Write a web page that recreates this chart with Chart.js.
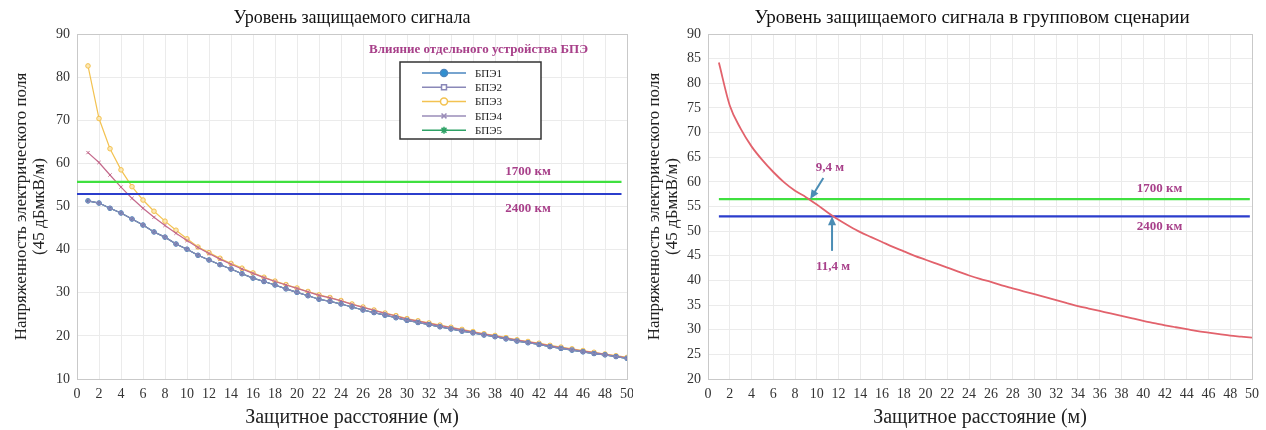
<!DOCTYPE html>
<html>
<head>
<meta charset="utf-8">
<script src="https://cdn.jsdelivr.net/npm/chart.js@4.4.1/dist/chart.umd.min.js"></script>
<style>
  body { margin: 0; background: #fff; }
  #wrap { position: relative; width: 1266px; height: 430px; }
  canvas { position: absolute; top: 0; }
  #left { left: 0; }
  #right { left: 633px; }
</style>
</head>
<body>
<div id="wrap">
  <canvas id="left" width="633" height="430"></canvas>
  <canvas id="right" width="633" height="430"></canvas>
</div>
<script>
// distance, m
var distance = [1,2,3,4,5,6,7,8,9,10,11,12,13,14,15,16,17,18,19,20,21,22,23,24,25,
                26,27,28,29,30,31,32,33,34,35,36,37,38,39,40,41,42,43,44,45,46,47,48,49,50];

// left chart: single device levels
var bte1 = [51.3,50.8,49.6,48.5,47.1,45.7,44.1,42.9,41.3,40.1,38.7,37.6,36.5,35.5,34.4,33.4,32.6,31.8,30.9,30.1,
            29.3,28.5,28.0,27.4,26.7,26.0,25.4,24.8,24.2,23.6,23.1,22.6,22.1,21.6,21.1,20.7,20.2,19.8,19.3,18.8,
            18.4,18.0,17.5,17.1,16.7,16.3,15.9,15.6,15.2,14.8];
var bte2 = bte1.slice();
var bte3 = [82.6,70.4,63.4,58.5,54.6,51.5,48.9,46.6,44.5,42.5,40.6,39.3,38.0,36.8,35.7,34.6,33.6,32.7,31.9,31.1,
            30.3,29.5,28.9,28.2,27.4,26.7,26.0,25.3,24.7,24.0,23.5,23.0,22.5,22.0,21.5,21.0,20.5,20.1,19.6,19.1,
            18.7,18.3,17.8,17.4,17.0,16.6,16.2,15.8,15.4,15.0];
var bte4 = [62.5,60.2,57.3,54.5,51.9,49.6,47.5,45.6,43.8,42.1,40.5,39.1,37.8,36.6,35.5,34.5,33.5,32.6,31.8,31.0,
            30.2,29.4,28.8,28.1,27.3,26.6,25.9,25.2,24.6,23.9,23.4,22.9,22.4,21.9,21.4,20.9,20.4,20.0,19.5,19.0,
            18.6,18.2,17.7,17.3,16.9,16.5,16.1,15.7,15.3,14.9];
var bte5 = bte1.slice();
var deviceNames = ['БПЭ1', 'БПЭ2', 'БПЭ3', 'БПЭ4', 'БПЭ5'];

// right chart: group scenario
var groupLevel = [84.2,75.5,70.8,67.2,64.4,62.0,59.9,58.2,56.9,55.4,53.8,52.3,51.0,49.8,48.8,47.8,46.8,45.9,45.0,44.2,
                  43.4,42.6,41.8,41.0,40.3,39.7,39.0,38.4,37.8,37.2,36.6,36.0,35.4,34.8,34.3,33.8,33.3,32.8,32.3,31.8,
                  31.35,30.9,30.5,30.1,29.7,29.4,29.1,28.8,28.6,28.4];

// protection thresholds (1700 km / 2400 km)
var leftThresholds = [55.7, 52.9];
var leftThresholdSpan = [0, 49.5];
var rightThresholds = [56.5, 53.0];
var rightThresholdSpan = [1, 49.8];
var thresholdNames = ['1700 км', '2400 км'];
var crossings = [9.4, 11.4];

var xTicks = [0,2,4,6,8,10,12,14,16,18,20,22,24,26,28,30,32,34,36,38,40,42,44,46,48,50];

var serif = "'Liberation Serif', 'DejaVu Serif', serif";
var purple = '#a8408a';

function pts(ys) {
    return ys.map(function(y, i) { return {x: distance[i], y: y}; });
}
function hline(y, span) {
    return [{x: span[0], y: y}, {x: span[1], y: y}];
}

function makeScales(ymin, ymax, ystep, yWidth) {
    return {
        x: {
            type: 'linear', min: 0, max: 50,
            afterBuildTicks: function(s) { s.ticks = xTicks.map(function(v) { return {value: v}; }); },
            afterFit: function(s) { s.height = 51; s.paddingLeft = 0; s.paddingRight = 0; },
            grid: { color: '#ebebeb', drawTicks: false },
            border: { display: false },
            ticks: { padding: 7, color: '#333', font: { family: serif, size: 14 }, maxRotation: 0, autoSkip: false },
            title: { display: true, text: 'Защитное расстояние (м)', color: '#222',
                     font: { family: serif, size: 20 }, padding: { top: 0, bottom: 0 } }
        },
        y: {
            min: ymin, max: ymax,
            afterFit: function(s) { s.width = yWidth; s.paddingTop = 0; s.paddingBottom = 0; },
            grid: { color: '#ebebeb', drawTicks: false },
            border: { display: false },
            ticks: { stepSize: ystep, padding: 7, color: '#333', font: { family: serif, size: 14 } },
            title: { display: true, text: ['Напряженность электрического поля', '(45 дБмкВ/м)'], color: '#222',
                     font: { family: serif, size: 17, lineHeight: 1.06 }, padding: { top: 13, bottom: 0 } }
        }
    };
}

// frame, title and text labels drawn on top of the chart
var decor = {
    id: 'decor',
    beforeDatasetsDraw: function(chart) {
        var a = chart.chartArea, ctx = chart.ctx;
        ctx.save();
        ctx.strokeStyle = '#c9c9c9';
        ctx.lineWidth = 1;
        ctx.strokeRect(a.left + 0.5, a.top + 0.5, a.right - a.left, a.bottom - a.top);
        ctx.restore();
    },
    afterDatasetsDraw: function(chart, args, opts) {
        var ctx = chart.ctx, a = chart.chartArea;
        var xs = chart.scales.x, ys = chart.scales.y;
        ctx.save();
        ctx.fillStyle = '#111';
        ctx.font = opts.titleSize + 'px ' + serif;
        ctx.textAlign = 'center';
        ctx.textBaseline = 'middle';
        ctx.fillText(opts.title, (a.left + a.right) / 2 + (opts.titleShift || 0), 18);

        ctx.fillStyle = purple;
        ctx.font = 'bold 13px ' + serif;
        (opts.labels || []).forEach(function(l) {
            ctx.fillText(l.text, xs.getPixelForValue(l.x), ys.getPixelForValue(l.y));
        });

        (opts.arrows || []).forEach(function(r) {
            var x1 = xs.getPixelForValue(r.from[0]), y1 = ys.getPixelForValue(r.from[1]);
            var x2 = xs.getPixelForValue(r.to[0]), y2 = ys.getPixelForValue(r.to[1]);
            var ang = Math.atan2(y2 - y1, x2 - x1);
            ctx.strokeStyle = '#4b8db5';
            ctx.fillStyle = '#4b8db5';
            ctx.lineWidth = 2;
            ctx.beginPath();
            ctx.moveTo(x1, y1);
            ctx.lineTo(x2 - 6 * Math.cos(ang), y2 - 6 * Math.sin(ang));
            ctx.stroke();
            ctx.beginPath();
            ctx.moveTo(x2, y2);
            ctx.lineTo(x2 - 9 * Math.cos(ang) + 4 * Math.sin(ang), y2 - 9 * Math.sin(ang) - 4 * Math.cos(ang));
            ctx.lineTo(x2 - 9 * Math.cos(ang) - 4 * Math.sin(ang), y2 - 9 * Math.sin(ang) + 4 * Math.cos(ang));
            ctx.closePath();
            ctx.fill();
        });

        if (opts.legend) {
            var L = opts.legend;
            ctx.fillStyle = purple;
            ctx.font = 'bold 13px ' + serif;
            ctx.fillText(L.heading, L.x + L.w / 2 + 8, L.y - 12);
            ctx.fillStyle = '#fff';
            ctx.fillRect(L.x, L.y, L.w, L.h);
            ctx.strokeStyle = '#333';
            ctx.lineWidth = 1.5;
            ctx.strokeRect(L.x, L.y, L.w, L.h);
            ctx.textAlign = 'left';
            ctx.font = '11px ' + serif;
            for (var i = 0; i < L.count; i++) {
                var ds = chart.data.datasets[i];
                var yy = L.y + 11 + i * 14.3;
                ctx.strokeStyle = ds.legendColor || ds.borderColor;
                ctx.lineWidth = 1.5;
                ctx.beginPath();
                ctx.moveTo(L.x + 22, yy);
                ctx.lineTo(L.x + 66, yy);
                ctx.stroke();
                ctx.fillStyle = ds.legendFill;
                Chart.helpers.drawPoint(ctx, { pointStyle: ds.pointStyle, radius: 3.5, rotation: 0, borderWidth: 1.2 }, L.x + 44, yy);
                ctx.fillStyle = '#222';
                ctx.fillText(ds.label, L.x + 75, yy + 1);
            }
        }
        ctx.restore();
    }
};

function series(label, ys, color, style, fill, legendFill, order) {
    return {
        label: label, data: pts(ys), borderColor: color, borderWidth: 1.2,
        pointStyle: style, pointRadius: 2.3, pointBorderWidth: 1,
        pointBackgroundColor: fill, pointBorderColor: color, legendFill: legendFill, order: order
    };
}

var s4 = series(deviceNames[3], bte4, '#c46a8c', 'crossRot', '#c46a8c', '#9a8cb8', 4);
s4.legendColor = '#9a8cb8';

new Chart(document.getElementById('left'), {
    type: 'line',
    data: {
        datasets: [
            series(deviceNames[0], bte1, '#4a86bf', 'circle', '#5b7fa8', '#2f8fd0', 3),
            series(deviceNames[1], bte2, '#8a88b8', 'rect', 'rgba(0,0,0,0)', '#ffffff', 2),
            series(deviceNames[2], bte3, '#f3c251', 'circle', '#fbe7b5', '#ffffff', 5),
            s4,
            series(deviceNames[4], bte5, '#2ea266', 'star', '#2ea266', '#2ea266', 6),
            { label: thresholdNames[0], data: hline(leftThresholds[0], leftThresholdSpan), borderColor: '#3fe03f',
              borderWidth: 2.2, pointRadius: 0, order: 1 },
            { label: thresholdNames[1], data: hline(leftThresholds[1], leftThresholdSpan), borderColor: '#2b3dcc',
              borderWidth: 2.2, pointRadius: 0, order: 1 }
        ]
    },
    options: {
        responsive: false,
        animation: false,
        layout: { padding: { left: 0, right: 6, top: 34, bottom: 0 } },
        scales: makeScales(10, 90, 10, 77),
        plugins: {
            legend: { display: false },
            tooltip: { enabled: false },
            decor: {
                title: 'Уровень защищаемого сигнала',
                titleSize: 18,
                labels: [
                    { text: thresholdNames[0], x: 41, y: 58.1 },
                    { text: thresholdNames[1], x: 41, y: 49.6 }
                ],
                legend: { x: 400, y: 62, w: 141, h: 77, count: 5, heading: 'Влияние отдельного устройства БПЭ' }
            }
        }
    },
    plugins: [decor]
});

new Chart(document.getElementById('right'), {
    type: 'line',
    data: {
        datasets: [
            { label: 'Групповой', data: pts(groupLevel), borderColor: '#e2626c', borderWidth: 1.8,
              pointRadius: 0, cubicInterpolationMode: 'monotone', order: 2 },
            { label: thresholdNames[0], data: hline(rightThresholds[0], rightThresholdSpan), borderColor: '#3fe03f',
              borderWidth: 2.2, pointRadius: 0, order: 3 },
            { label: thresholdNames[1], data: hline(rightThresholds[1], rightThresholdSpan), borderColor: '#2b3dcc',
              borderWidth: 2.2, pointRadius: 0, order: 3 }
        ]
    },
    options: {
        responsive: false,
        animation: false,
        layout: { padding: { left: 0, right: 14, top: 34, bottom: 0 } },
        scales: makeScales(20, 90, 5, 75),
        plugins: {
            legend: { display: false },
            tooltip: { enabled: false },
            decor: {
                title: 'Уровень защищаемого сигнала в групповом сценарии',
                titleSize: 19,
                titleShift: -8,
                labels: [
                    { text: thresholdNames[0], x: 41.5, y: 58.6 },
                    { text: thresholdNames[1], x: 41.5, y: 50.9 },
                    { text: '9,4 м', x: 11.2, y: 62.9 },
                    { text: '11,4 м', x: 11.5, y: 42.8 }
                ],
                arrows: [
                    { from: [10.6, 60.8], to: [crossings[0], rightThresholds[0]] },
                    { from: [crossings[1], 46.0], to: [crossings[1], rightThresholds[1]] }
                ]
            }
        }
    },
    plugins: [decor]
});
</script>
</body>
</html>
